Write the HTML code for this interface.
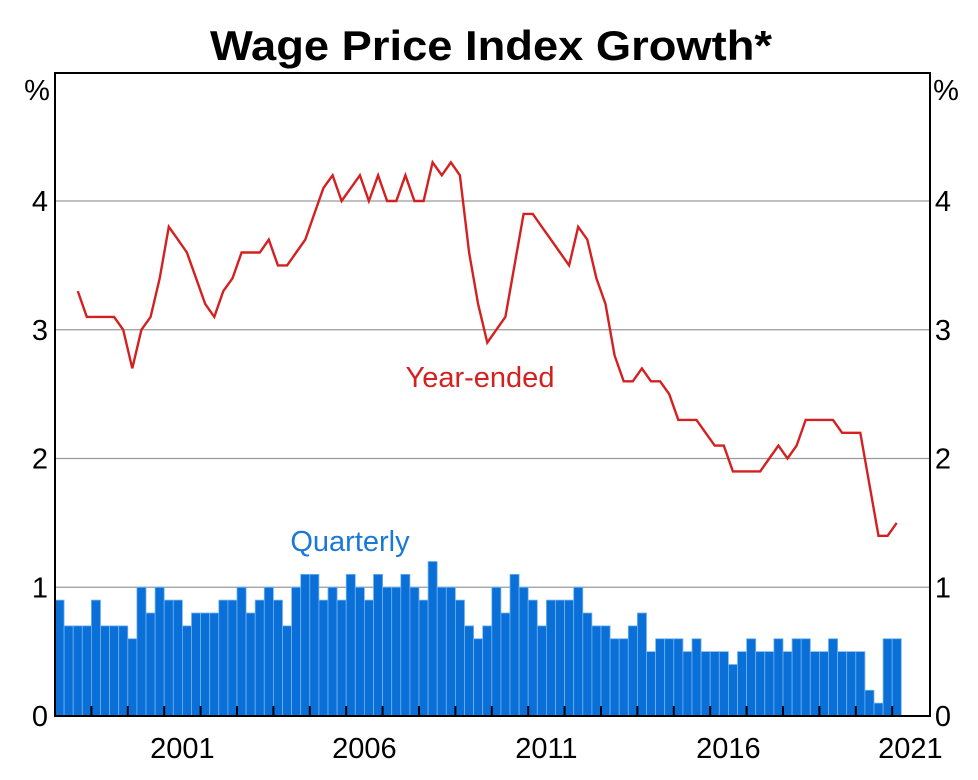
<!DOCTYPE html>
<html><head><meta charset="utf-8"><style>
html,body{margin:0;padding:0;background:#fff;}
svg{display:block;font-family:"Liberation Sans",Arial,sans-serif;}
</style></head><body>
<svg id="chart" width="978" height="780" viewBox="0 0 978 780">
<rect x="0" y="0" width="978" height="780" fill="#ffffff"/>
<text x="491" y="60" text-anchor="middle" font-size="42" font-weight="bold" fill="#000" textLength="562" lengthAdjust="spacingAndGlyphs">Wage Price Index Growth*</text>
<text x="37" y="100" text-anchor="middle" font-size="29" fill="#000">%</text>
<text x="946" y="100" text-anchor="middle" font-size="29" fill="#000">%</text>
<g id="grid"></g>
<g id="bars"></g>
<g id="line"></g>
<g id="axes"></g>
<text x="480" y="387" text-anchor="middle" font-size="29" fill="#d42020">Year-ended</text>
<text x="350" y="551" text-anchor="middle" font-size="29" fill="#1a78d6">Quarterly</text>
</svg>
<script>
const quarterly = [0.9,0.7,0.7,0.7,0.9,0.7,0.7,0.7,0.6,1.0,0.8,1.0,0.9,0.9,0.7,0.8,0.8,0.8,0.9,0.9,1.0,0.8,0.9,1.0,0.9,0.7,1.0,1.1,1.1,0.9,1.0,0.9,1.1,
1.0,0.9,1.1,1.0,1.0,1.1,1.0,0.9,1.2,1.0,1.0,0.9,0.7,0.6,0.7,1.0,0.8,1.1,1.0,0.9,0.7,0.9,0.9,0.9,1.0,0.8,0.7,0.7,0.6,0.6,0.7,0.8,
0.5,0.6,0.6,0.6,0.5,0.6,0.5,0.5,0.5,0.4,0.5,0.6,0.5,0.5,0.6,0.5,0.6,0.6,0.5,0.5,0.6,0.5,0.5,0.5,0.2,0.1,0.6,0.6];
const yearEndedStart = 2;
const yearEnded = [3.3,3.1,3.1,3.1,3.1,3.0,2.7,3.0,3.1,3.4,3.8,3.7,3.6,3.4,3.2,3.1,3.3,3.4,3.6,3.6,3.6,3.7,3.5,3.5,3.6,3.7,3.9,
4.1,4.2,4.0,4.1,4.2,4.0,4.2,4.0,4.0,4.2,4.0,4.0,4.3,4.2,4.3,4.2,3.6,3.2,2.9,3.0,3.1,3.5,3.9,3.9,3.8,3.7,3.6,3.5,
3.8,3.7,3.4,3.2,2.8,2.6,2.6,2.7,2.6,2.6,2.5,2.3,2.3,2.3,2.2,2.1,2.1,1.9,1.9,1.9,1.9,2.0,2.1,2.0,2.1,2.3,2.3,2.3,2.3,2.2,2.2,2.2,1.8,1.4,1.4,1.5];
const yTicks = [0,1,2,3,4];
const xLabels = [2001,2006,2011,2016,2021];
const startYear = 1998;

const NS = "http://www.w3.org/2000/svg";
const L = 55, R = 930, T = 73, B = 716;
const qW = (R - L) / 96.15;
function xQ(i){ return L + i * 9.1; }
function xYear(y){ return L + (y - startYear) * 4 * 9.1; }
function yV(v){ return B - v * 128.75; }
function mk(tag, attrs, parent){ const e = document.createElementNS(NS, tag); for (const k in attrs) e.setAttribute(k, attrs[k]); parent.appendChild(e); return e; }

const grid = document.getElementById('grid');
yTicks.forEach(v => {
  if (v > 0) {
    const g = mk('line', {x1:L, x2:R, y1:yV(v), y2:yV(v), stroke:'#9a9a9a', 'stroke-width':1.3}, grid);
    
    
  }
  const tl = mk('text', {x:40, y:yV(v)+10, 'text-anchor':'middle', 'font-size':29, fill:'#000'}, grid);
  tl.textContent = v;
  
  
  const tr = mk('text', {x:943, y:yV(v)+10, 'text-anchor':'middle', 'font-size':29, fill:'#000'}, grid);
  tr.textContent = v;
  
  
});

const bars = document.getElementById('bars');
quarterly.forEach((v, i) => {
  const b = mk('rect', {x:xQ(i), y:yV(v), width:9.1, height:B - yV(v), fill:'#0b6fd8', stroke:'#6fb4f2', 'stroke-width':0.8}, bars);
  
  
});

const lineG = document.getElementById('line');
const pts = yearEnded.map((v, k) => (xQ(yearEndedStart + k) + 4.55).toFixed(1) + ',' + yV(v).toFixed(1)).join(' ');
const pl = mk('polyline', {points:pts, fill:'none', stroke:'#d42020', 'stroke-width':2.4, 'stroke-linejoin':'miter'}, lineG);



const axes = document.getElementById('axes');
const frame = mk('rect', {x:L, y:T, width:R-L, height:B-T, fill:'none', stroke:'#000', 'stroke-width':2}, axes);


for (let y = startYear + 1; y <= 2021; y++) {
  const t = mk('line', {x1:xYear(y), x2:xYear(y), y1:B, y2:B-10, stroke:'#000', 'stroke-width':2}, axes);
  
  
}
xLabels.forEach(y => {
  const t = mk('text', {x:xYear(y) + 18.2, y:758, 'text-anchor':'middle', 'font-size':29, fill:'#000'}, axes);
  t.textContent = y;
  
  
});
</script>
</body></html>
